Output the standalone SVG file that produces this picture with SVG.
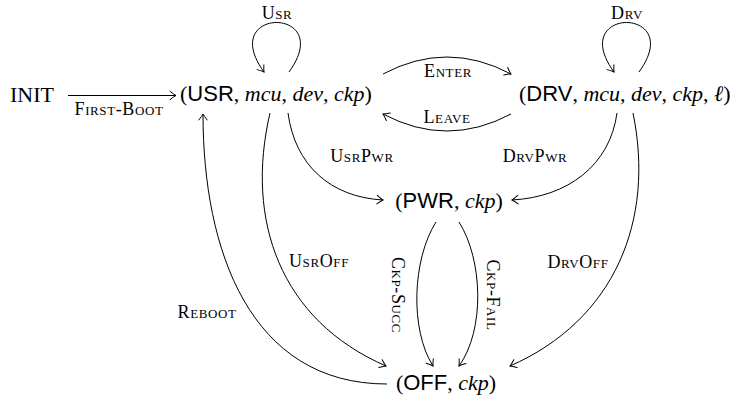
<svg xmlns="http://www.w3.org/2000/svg" width="738" height="402" viewBox="0 0 738 402">
<style>
  .bg { fill: #ffffff; }
  .sans { font-family: "Liberation Sans", Arial, sans-serif; }
  .node { font-family: "Liberation Serif", "Times New Roman", serif; font-size: 22px; fill: #000; }
  .it { font-style: italic; }
  .lbl { font-family: "Liberation Serif", "Times New Roman", serif; font-size: 18px; font-variant: small-caps; letter-spacing: 0.6px; fill: #000; }
  .edge { fill: none; stroke: #000; stroke-width: 1; marker-end: url(#ah); }
</style>
<defs>
  <marker id="ah" viewBox="-8 -5 10 10" refX="0" refY="0" markerWidth="10" markerHeight="10" markerUnits="userSpaceOnUse" orient="auto" overflow="visible">
    <path d="M -6 -4.2 Q -2 -1 0 0 Q -2 1 -6 4.2" fill="none" stroke="#000" stroke-width="1" stroke-linecap="round"/>
  </marker>
</defs>
<rect class="bg" x="0" y="0" width="738" height="402"/>

<g id="node-init">
  <text class="node sans" x="10" y="102">INIT</text>
</g>
<g id="node-usr">
  <text class="node" x="180" y="101">(<tspan class="sans">USR</tspan>, <tspan class="it">mcu</tspan>, <tspan class="it">dev</tspan>, <tspan class="it">ckp</tspan>)</text>
</g>
<g id="node-drv">
  <text class="node" x="519" y="101">(<tspan class="sans">DRV</tspan>, <tspan class="it">mcu</tspan>, <tspan class="it">dev</tspan>, <tspan class="it">ckp</tspan>, <tspan class="it">ℓ</tspan>)</text>
</g>
<g id="node-pwr">
  <text class="node" x="449" y="208" text-anchor="middle">(<tspan class="sans">PWR</tspan>, <tspan class="it">ckp</tspan>)</text>
</g>
<g id="node-off">
  <text class="node" x="446" y="390" text-anchor="middle">(<tspan class="sans">OFF</tspan>, <tspan class="it">ckp</tspan>)</text>
</g>

<g id="connectors">
  <path id="e-firstboot" class="edge" d="M 68 95.5 L 176 95.5"/>
  <path id="e-usr" class="edge" d="M 289 72 C 337 6, 216 6, 264 72"/>
  <path id="e-drv" class="edge" d="M 639 72 C 687 6, 566 6, 614 72"/>
  <path id="e-enter" class="edge" d="M 383 74 Q 447 40 511 74"/>
  <path id="e-leave" class="edge" d="M 511 114 Q 447 148 383 114"/>
  <path id="e-usrpwr" class="edge" d="M 288 113 C 295 165, 330 197, 383 200"/>
  <path id="e-drvpwr" class="edge" d="M 617 113 C 610 165, 568 197, 512 200"/>
  <path id="e-usroff" class="edge" d="M 270 113 C 245 220, 280 320, 386 366"/>
  <path id="e-drvoff" class="edge" d="M 633 113 C 655 220, 615 320, 510 366"/>
  <path id="e-reboot" class="edge" d="M 387 384 C 250 384, 203 250, 203 114"/>
  <path id="e-ckpsucc" class="edge" d="M 436 222 C 412 260, 410 330, 433 366"/>
  <path id="e-ckpfail" class="edge" d="M 459 222 C 483 260, 485 330, 459 366"/>

  <text class="lbl" x="119" y="115" text-anchor="middle">First-Boot</text>
  <text class="lbl" x="277" y="19" text-anchor="middle">Usr</text>
  <text class="lbl" x="627" y="19" text-anchor="middle">Drv</text>
  <text class="lbl" x="448" y="77" text-anchor="middle">Enter</text>
  <text class="lbl" x="447" y="123" text-anchor="middle">Leave</text>
  <text class="lbl" x="362" y="162" text-anchor="middle">UsrPwr</text>
  <text class="lbl" x="535" y="162" text-anchor="middle">DrvPwr</text>
  <text class="lbl" x="319" y="267" text-anchor="middle">UsrOff</text>
  <text class="lbl" x="578" y="268" text-anchor="middle">DrvOff</text>
  <text class="lbl" x="207" y="318" text-anchor="middle">Reboot</text>
  <text class="lbl" text-anchor="middle" transform="translate(392 295) rotate(90)">Ckp-Succ</text>
  <text class="lbl" text-anchor="middle" transform="translate(487 295) rotate(90)">Ckp-Fail</text>
</g>
</svg>
